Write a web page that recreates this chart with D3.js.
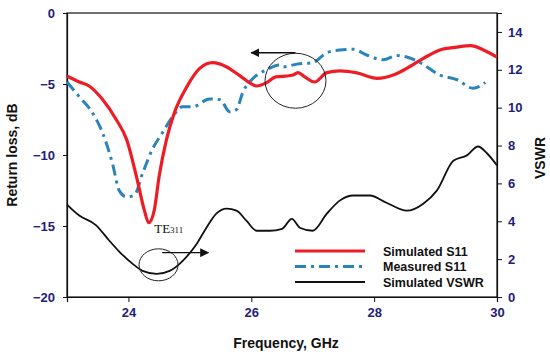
<!DOCTYPE html>
<html>
<head>
<meta charset="utf-8">
<script src="https://cdn.jsdelivr.net/npm/d3@7"></script>
<style>
  body { margin: 0; background: #fff; }
  .tick text { font-family: Arial, "Liberation Sans", sans-serif; font-weight: bold; font-size: 13px; fill: #22207a; }
  .axis-title { font-family: Arial, "Liberation Sans", sans-serif; font-weight: bold; font-size: 14px; fill: #111; }
  .legend text { font-family: Arial, "Liberation Sans", sans-serif; font-weight: bold; font-size: 12.5px; fill: #111; }
</style>
</head>
<body>
<script>
// values
var simFreq = [23, 23.2, 23.36, 23.58, 23.8, 23.97, 24.13, 24.26, 24.33, 24.42, 24.5, 24.62, 24.75, 24.95, 25.16, 25.37, 25.6, 25.8, 26.09, 26.25, 26.4, 26.55, 26.68, 26.76, 26.87, 27.03, 27.23, 27.44, 27.72, 28.05, 28.31, 28.53, 28.8, 29.07, 29.35, 29.57, 29.78, 30];
var simS11 = [-4.44, -4.86, -5.14, -6.1, -7.5, -8.9, -11.5, -13.9, -14.77, -13.9, -11.5, -8.9, -7.0, -5.2, -3.9, -3.5, -3.8, -4.37, -5.14, -4.9, -4.5, -4.45, -4.37, -4.2, -4.5, -4.86, -4.2, -4.08, -4.22, -4.6, -4.37, -3.9, -3.2, -2.6, -2.4, -2.3, -2.6, -3.1];

var measFreq = [23, 23.2, 23.41, 23.58, 23.74, 23.85, 23.97, 24.1, 24.23, 24.39, 24.55, 24.72, 24.88, 25.05, 25.32, 25.49, 25.65, 25.76, 25.86, 26.03, 26.25, 26.46, 26.51, 26.74, 27.0, 27.23, 27.44, 27.66, 27.88, 28.15, 28.37, 28.53, 28.75, 29.07, 29.35, 29.61, 29.81];
var measS11 = [-4.86, -5.9, -7.0, -8.45, -10.6, -12.5, -12.96, -12.8, -11.3, -9.6, -8.45, -7.3, -6.6, -6.6, -6.06, -6.1, -6.96, -6.8, -5.6, -4.6, -4.0, -3.66, -3.8, -3.6, -3.5, -2.8, -2.6, -2.55, -2.96, -3.3, -3.0, -3.1, -3.5, -4.37, -4.7, -5.3, -4.9];

var vswrFreq = [23, 23.2, 23.47, 23.69, 23.85, 24.07, 24.23, 24.46, 24.67, 24.88, 25.11, 25.27, 25.43, 25.6, 25.76, 25.92, 26.09, 26.3, 26.5, 26.66, 26.79, 27.0, 27.23, 27.44, 27.66, 27.93, 28.2, 28.53, 28.8, 29.02, 29.29, 29.51, 29.69, 29.84, 30];
var vswr = [4.88, 4.3, 3.8, 2.97, 2.4, 1.75, 1.38, 1.22, 1.38, 1.9, 2.8, 3.66, 4.4, 4.67, 4.56, 4.03, 3.5, 3.5, 3.6, 4.13, 3.66, 3.5, 4.4, 5.09, 5.36, 5.36, 4.98, 4.56, 4.93, 5.62, 7.2, 7.48, 7.95, 7.58, 6.95];

var xTicks = [24, 26, 28, 30];
var yLeftTicks = [0, -5, -10, -15, -20];
var yRightTicks = [0, 2, 4, 6, 8, 10, 12, 14];
var legendLabels = ['Simulated S11', 'Measured S11', 'Simulated VSWR'];

var w = 550, h = 357;
var m = {left: 67, right: 53, top: 13, bottom: 60};

var svg = d3.select('body').append('svg')
    .attr('width', w)
    .attr('height', h);

var x = d3.scaleLinear().domain([23, 30]).range([m.left, w - m.right]);
var yL = d3.scaleLinear().domain([-20, 0]).range([h - m.bottom, m.top]);
var yR = d3.scaleLinear().domain([0, 15]).range([h - m.bottom, m.top]);

// frame
svg.append('rect')
    .attr('x', m.left).attr('y', m.top)
    .attr('width', w - m.left - m.right)
    .attr('height', h - m.top - m.bottom)
    .attr('fill', 'none').attr('stroke', '#111').attr('stroke-width', 1.2);

var gx = svg.append('g')
    .attr('transform', 'translate(0,' + (h - m.bottom) + ')')
    .call(d3.axisBottom(x).tickValues(xTicks).tickSize(5).tickPadding(6).tickFormat(d3.format('d')));
var gl = svg.append('g')
    .attr('transform', 'translate(' + m.left + ',0)')
    .call(d3.axisLeft(yL).tickValues(yLeftTicks).tickSize(4).tickPadding(8).tickFormat(d3.format('d')));
var gr = svg.append('g')
    .attr('transform', 'translate(' + (w - m.right) + ',0)')
    .call(d3.axisRight(yR).tickValues(yRightTicks).tickSize(5).tickPadding(6).tickFormat(d3.format('d')));
[gx, gl, gr].forEach(function(g) {
    g.select('.domain').attr('stroke', '#111').attr('stroke-width', 1.2);
    g.selectAll('.tick line').attr('stroke', '#111');
});

// axis titles
svg.append('text').attr('class', 'axis-title')
    .attr('x', (m.left + w - m.right) / 2 + 4).attr('y', 348)
    .attr('text-anchor', 'middle').text('Frequency, GHz');
svg.append('text').attr('class', 'axis-title')
    .attr('transform', 'translate(17,' + (m.top + (h - m.top - m.bottom) / 2) + ') rotate(-90)')
    .attr('text-anchor', 'middle').text('Return loss, dB');
svg.append('text').attr('class', 'axis-title')
    .attr('transform', 'translate(545,' + 158 + ') rotate(-90)')
    .attr('text-anchor', 'middle').text('VSWR');

// curves
var lineL = d3.line().x(function(d) { return x(d[0]); }).y(function(d) { return yL(d[1]); }).curve(d3.curveMonotoneX);
var lineR = d3.line().x(function(d) { return x(d[0]); }).y(function(d) { return yR(d[1]); }).curve(d3.curveMonotoneX);

svg.append('path')
    .datum(d3.zip(vswrFreq, vswr))
    .attr('d', lineR)
    .attr('fill', 'none').attr('stroke', '#111').attr('stroke-width', 1.8);
svg.append('path')
    .datum(d3.zip(measFreq, measS11))
    .attr('d', lineL)
    .attr('fill', 'none').attr('stroke', '#2a84b9').attr('stroke-width', 3)
    .attr('stroke-dasharray', '11,5,3,5');
svg.append('path')
    .datum(d3.zip(simFreq, simS11))
    .attr('d', lineL)
    .attr('fill', 'none').attr('stroke', '#ee1c24').attr('stroke-width', 3.2);

// annotations
svg.append('defs').append('marker')
    .attr('id', 'arr').attr('viewBox', '0 0 10 10')
    .attr('refX', 9).attr('refY', 5)
    .attr('markerWidth', 9).attr('markerHeight', 9)
    .attr('markerUnits', 'userSpaceOnUse')
    .attr('orient', 'auto')
    .append('path').attr('d', 'M0,0L10,5L0,10Z').attr('fill', '#111');

svg.append('ellipse')
    .attr('cx', x(26.72)).attr('cy', yL(-4.77))
    .attr('rx', 30.5).attr('ry', 27.5)
    .attr('fill', 'none').attr('stroke', '#222').attr('stroke-width', 1);
svg.append('line')
    .attr('x1', x(26.72)).attr('y1', yL(-2.8))
    .attr('x2', x(26.0)).attr('y2', yL(-2.8))
    .attr('stroke', '#111').attr('stroke-width', 1.3).attr('marker-end', 'url(#arr)');

svg.append('ellipse')
    .attr('cx', x(24.49)).attr('cy', yR(1.7))
    .attr('rx', 19.5).attr('ry', 16)
    .attr('fill', 'none').attr('stroke', '#222').attr('stroke-width', 1);
svg.append('line')
    .attr('x1', x(24.55)).attr('y1', yR(2.34))
    .attr('x2', x(25.3)).attr('y2', yR(2.34))
    .attr('stroke', '#111').attr('stroke-width', 1.3).attr('marker-end', 'url(#arr)');

var te = svg.append('text')
    .attr('x', x(24.42)).attr('y', yL(-15.5))
    .attr('font-family', '"Liberation Serif", "Times New Roman", serif')
    .attr('font-size', 13).attr('fill', '#111');
te.append('tspan').text('TE');
te.append('tspan').attr('font-size', 9).text('311');

// legend
var legendStyles = [
    {stroke: '#ee1c24', width: 3.2, dash: null},
    {stroke: '#2a84b9', width: 3, dash: '11,5,3,5'},
    {stroke: '#111', width: 1.8, dash: null}
];
var lg = svg.append('g').attr('class', 'legend');
legendLabels.forEach(function(lab, i) {
    var yy = 251 + i * 15.5;
    lg.append('line')
        .attr('x1', 295).attr('x2', 365).attr('y1', yy).attr('y2', yy)
        .attr('stroke', legendStyles[i].stroke)
        .attr('stroke-width', legendStyles[i].width)
        .attr('stroke-dasharray', legendStyles[i].dash);
    lg.append('text').attr('x', 383).attr('y', yy + 4.5).text(lab);
});
</script>
</body>
</html>
